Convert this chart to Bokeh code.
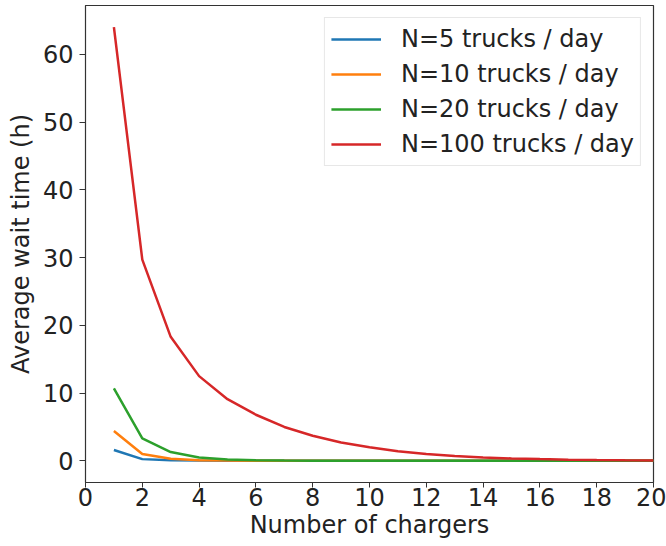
from bokeh.plotting import figure
from bokeh.models import Range1d, FixedTicker, Legend, LegendItem
from bokeh.embed import file_html
from bokeh.resources import INLINE

chargers = list(range(1, 21))
wait_n5 = [1.6, 0.25, 0.08, 0.03, 0.01, 0.0, 0.0, 0.0, 0.0, 0.0, 0.0, 0.0, 0.0, 0.0, 0.0, 0.0, 0.0, 0.0, 0.0, 0.0]
wait_n10 = [4.4, 1.0, 0.3, 0.1, 0.03, 0.01, 0.0, 0.0, 0.0, 0.0, 0.0, 0.0, 0.0, 0.0, 0.0, 0.0, 0.0, 0.0, 0.0, 0.0]
wait_n20 = [10.7, 3.3, 1.3, 0.5, 0.2, 0.08, 0.03, 0.01, 0.0, 0.0, 0.0, 0.0, 0.0, 0.0, 0.0, 0.0, 0.0, 0.0, 0.0, 0.0]
wait_n100 = [64.0, 29.7, 18.3, 12.5, 9.1, 6.8, 5.0, 3.7, 2.7, 2.0, 1.4, 1.0, 0.7, 0.5, 0.35, 0.25, 0.17, 0.12, 0.08, 0.05]
labels = ["N=5 trucks / day", "N=10 trucks / day", "N=20 trucks / day", "N=100 trucks / day"]
colors = ["#1f77b4", "#ff7f0e", "#2ca02c", "#d62728"]
x_ticks = list(range(0, 21, 2))
y_ticks = list(range(0, 61, 10))

p = figure(width=666, height=546, output_backend="svg", toolbar_location=None,
           x_range=Range1d(0, 20), y_range=Range1d(-3.2, 67.2),
           min_border_left=85, min_border_right=13, min_border_top=5, min_border_bottom=64)

font = "DejaVu Sans"
items = []
for ys, lab, col in zip([wait_n5, wait_n10, wait_n20, wait_n100], labels, colors):
    r = p.line(chargers, ys, line_color=col, line_width=2.5)
    items.append(LegendItem(label=lab, renderers=[r]))

legend = Legend(items=items, location="top_right")
legend.label_text_font = font
legend.label_text_font_size = "24px"
legend.label_text_color = "#222222"
legend.glyph_width = 50
legend.glyph_height = 30
legend.label_height = 30
legend.label_standoff = 20
legend.spacing = 5
legend.padding = 6
legend.margin = 12
legend.border_line_color = "#d0d0d0"
legend.border_line_width = 1
legend.background_fill_alpha = 0.9
p.add_layout(legend)

p.xgrid.visible = False
p.ygrid.visible = False
p.outline_line_color = "#333333"
p.outline_line_width = 1.2

for ax in (p.xaxis[0], p.yaxis[0]):
    ax.axis_line_color = "#333333"
    ax.major_tick_line_color = "#333333"
    ax.major_tick_in = 0
    ax.minor_tick_line_color = None
    ax.major_label_text_font = font
    ax.major_label_text_font_size = "24px"
    ax.major_label_text_color = "#222222"
    ax.axis_label_text_font = font
    ax.axis_label_text_font_size = "24px"
    ax.axis_label_text_font_style = "normal"
    ax.axis_label_text_color = "#222222"

p.xaxis.major_tick_out = 5
p.yaxis.major_tick_out = 6
p.xaxis.ticker = FixedTicker(ticks=x_ticks)
p.yaxis.ticker = FixedTicker(ticks=y_ticks)
p.xaxis.axis_label = "Number of chargers"
p.yaxis.axis_label = "Average wait time (h)"
p.xaxis.major_label_standoff = 0
p.yaxis.major_label_standoff = 6
p.xaxis.axis_label_standoff = 2
p.yaxis.axis_label_standoff = 5

open("out.html", "w").write(file_html(p, INLINE))
